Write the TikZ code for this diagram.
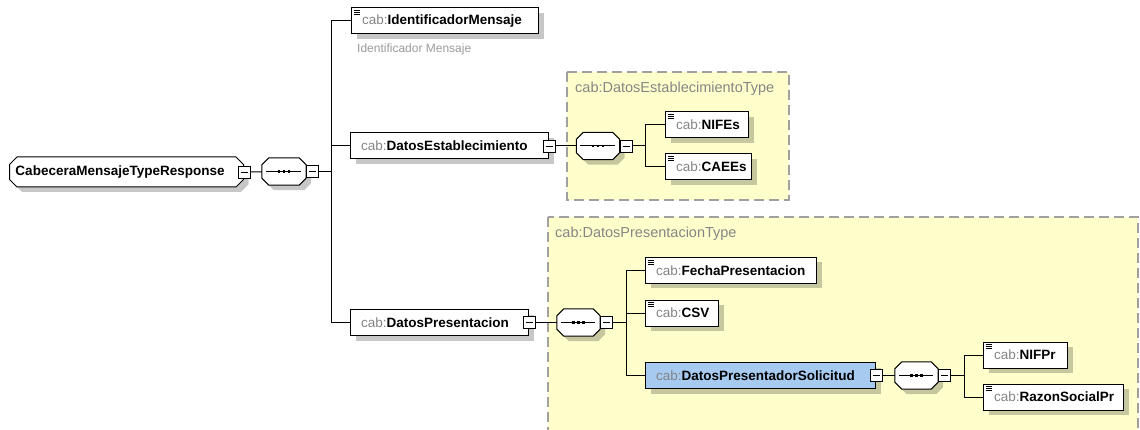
\documentclass[tikz,border=0pt]{standalone}
\usepackage{fontspec}
\setmainfont{Liberation Sans}
\usetikzlibrary{shapes.misc,shadows,positioning}
\definecolor{cabgray}{HTML}{858585}
\definecolor{notegray}{HTML}{9A9A9A}
\definecolor{typeyellow}{HTML}{FFFFCC}
\definecolor{typeborder}{HTML}{A0A0A0}
\definecolor{complexblue}{HTML}{A6CAF0}
\newcommand{\elfont}{\fontsize{13.5}{16}\selectfont}
\newcommand{\cabname}[1]{\mbox{\textcolor{cabgray}{cab:}\textbf{#1}}}
\newcommand{\drawseq}[1]{%
	\filldraw[fill=white, line width=1pt, boxshadow] ([xshift=7pt]#1.north west) -- ([xshift=-7pt]#1.north east) -- ([yshift=-7pt]#1.north east) -- ([yshift=7pt]#1.south east) -- ([xshift=-7pt]#1.south east) -- ([xshift=7pt]#1.south west) -- ([yshift=7pt]#1.south west) -- ([yshift=-7pt]#1.north west) -- cycle;
	\draw[line width=1pt] ([xshift=4pt]#1.west) -- ([xshift=-5pt]#1.east);
	\foreach \d in {-5pt,0pt,5pt} \fill ([shift={(\d-1.4pt,-1.4pt)}]#1.center) rectangle ++(2.8pt,2.8pt);}
\tikzset{
	boxshadow/.style={drop shadow={shadow xshift=5pt, shadow yshift=-5pt, fill=black, opacity=0.22}},
	elem/.style={draw, fill=white, line width=1pt, anchor=west, minimum height=26, inner xsep=10.5, inner ysep=0, text width=#1, align=left, font=\elfont, boxshadow},
	leaf/.style={elem=#1, path picture={\foreach \k in {2.5pt,4.5pt,6.5pt} \draw[line width=0.7pt] ([shift={(2pt,-\k)}]path picture bounding box.north west) -- ++(6pt,0pt);}},
	rootbox/.style={chamfered rectangle, chamfered rectangle xsep=4pt, draw, fill=white, line width=1pt, anchor=west, minimum width=234, minimum height=30, inner xsep=0, text width=222pt, align=left, font=\elfont\bfseries, boxshadow},
	seqbox/.style={minimum width=43, minimum height=27, inner sep=0},
	minusbox/.style={draw, fill=white, line width=0.8pt, minimum size=12, inner sep=0,
		path picture={\draw[line width=0.8pt] ([xshift=2.5pt]path picture bounding box.west) -- ([xshift=-2.5pt]path picture bounding box.east);}},
	wire/.style={line width=1pt},
	typebox/.style={draw=typeborder, fill=typeyellow, line width=1.3pt, dash pattern=on 10pt off 5pt},
	typelabel/.style={font=\fontsize{14.5}{16}\selectfont, text=cabgray, anchor=west, inner sep=0},
	notetext/.style={font=\fontsize{12}{14}\selectfont, text=notegray, anchor=west, inner sep=0}
}
\begin{document}
\begin{tikzpicture}[x=1pt, y=-1pt]
	\useasboundingbox (0,0) rectangle (1140,430);
	\draw[typebox] (567,72) rectangle (789,200);
	\draw[typebox] (548,217) rectangle (1138,440);
	\node[typelabel] (t1) at (575,89) {cab:DatosEstablecimientoType};
	\node[typelabel] (t2) at (555,234) {cab:DatosPresentacionType};

	\node[rootbox] (root) at (9,172) {CabeceraMensajeTypeResponse};
	\node[minusbox] (root-m) at (root.east) {};
	\node[seqbox, minimum width=44] (s0) at (284,171.5) {};
	\drawseq{s0}
	\node[minusbox, right=0pt of s0] (s0-m) {};
	\coordinate (j0) at (331,171.5);

	\node[leaf=166pt] (im) at (351,21) {\cabname{IdentificadorMensaje}};
	\node[notetext] (im-note) at (357,49) {Identificador Mensaje};
	\node[elem=177pt] (de) at (350,146) {\cabname{DatosEstablecimiento}};
	\node[minusbox] (de-m) at (de.east) {};
	\node[elem=157pt] (dp) at (350,322.5) {\cabname{DatosPresentacion}};
	\node[minusbox] (dp-m) at (dp.east) {};

	\node[seqbox] (s1) at (598,146) {};
	\drawseq{s1}
	\node[minusbox, right=0pt of s1] (s1-m) {};
	\coordinate (j1) at (645,146);
	\node[leaf=62pt] (nf) at (665,125) {\cabname{NIFEs}};
	\node[leaf=65pt] (ca) at (665,167) {\cabname{CAEEs}};

	\node[seqbox] (s2) at (578.5,322.5) {};
	\drawseq{s2}
	\node[minusbox, right=0pt of s2] (s2-m) {};
	\coordinate (j2) at (626,322.5);
	\node[leaf=150pt] (fp) at (645,270.5) {\cabname{FechaPresentacion}};
	\node[leaf=52pt] (cs) at (645,313) {\cabname{CSV}};
	\node[elem=209pt, fill=complexblue] (ds) at (645,375.5) {\cabname{DatosPresentadorSolicitud}};
	\node[minusbox] (ds-m) at (ds.east) {};

	\node[seqbox] (s3) at (916.5,375.5) {};
	\drawseq{s3}
	\node[minusbox, right=0pt of s3] (s3-m) {};
	\coordinate (j3) at (964,375.5);
	\node[leaf=63pt] (np) at (983,355) {\cabname{NIFPr}};
	\node[leaf=119pt] (rs) at (983,397) {\cabname{RazonSocialPr}};

	\draw[wire] (root-m) -- (s0);
	\draw[wire] (s0-m) -- (j0);
	\foreach \c in {im,de,dp} \draw[wire] (j0) |- (\c.west);
	\draw[wire] (de-m) -- (s1);
	\draw[wire] (s1-m) -- (j1);
	\foreach \c in {nf,ca} \draw[wire] (j1) |- (\c.west);
	\draw[wire] (dp-m) -- (s2);
	\draw[wire] (s2-m) -- (j2);
	\foreach \c in {fp,cs,ds} \draw[wire] (j2) |- (\c.west);
	\draw[wire] (ds-m) -- (s3);
	\draw[wire] (s3-m) -- (j3);
	\foreach \c in {np,rs} \draw[wire] (j3) |- (\c.west);
\end{tikzpicture}
\end{document}
